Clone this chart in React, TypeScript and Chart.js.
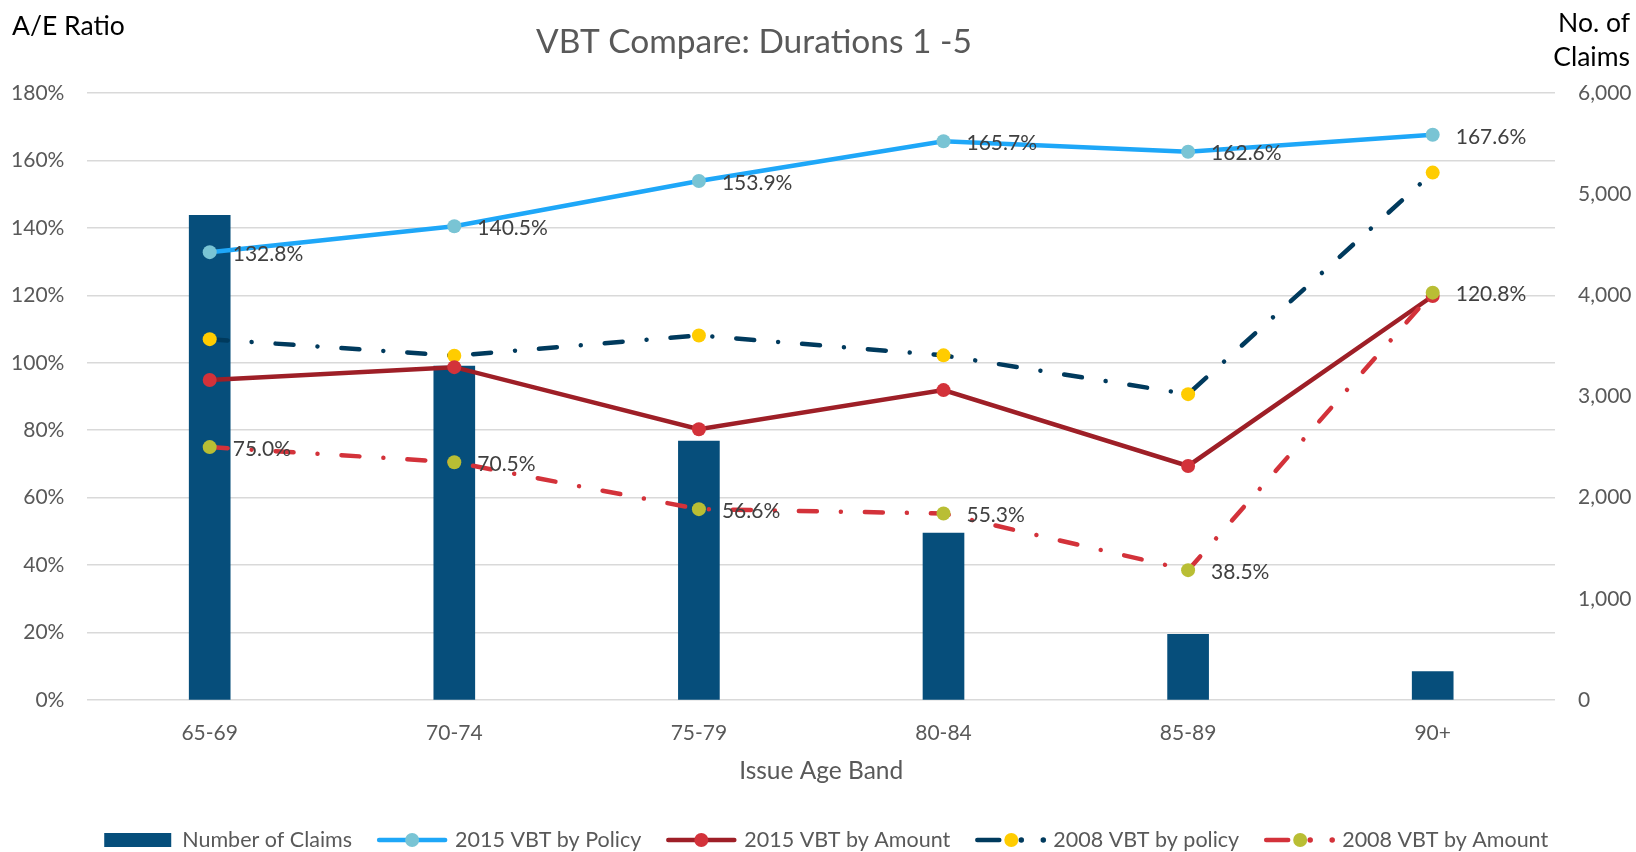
import { useEffect, useRef } from 'react';
import { Chart, registerables } from 'chart.js';

Chart.register(...registerables);

const categories = ['65-69', '70-74', '75-79', '80-84', '85-89', '90+'];
const numberOfClaims = [4790, 3300, 2560, 1650, 650, 280];
const vbt2015Policy = [132.8, 140.5, 153.9, 165.7, 162.6, 167.6];
const vbt2015Amount = [94.9, 98.7, 80.3, 91.9, 69.4, 119.8];
const vbt2008Policy = [107.0, 102.1, 108.1, 102.2, 90.7, 156.4];
const vbt2008Amount = [75.0, 70.5, 56.6, 55.3, 38.5, 120.8];

const chartTitle = 'VBT Compare: Durations 1 -5';
const leftAxisHeader = 'A/E Ratio';
const rightAxisHeader = ['No. of', 'Claims'];
const xAxisTitle = 'Issue Age Band';

const FONT = 'Lato, "Open Sans", sans-serif';
const GREY = '#595959';
const DASH_DOT = [18, 24, 0.01, 24];

const overlayPlugin = {
  id: 'overlay',
  afterDatasetsDraw(chart: any) {
    const ctx = chart.ctx;
    chart.data.datasets.forEach((ds: any, i: number) => {
      if (!ds.showValueLabels) return;
      const meta = chart.getDatasetMeta(i);
      ctx.save();
      ctx.font = `21px ${FONT}`;
      ctx.fillStyle = '#404040';
      ctx.textAlign = 'left';
      ctx.textBaseline = 'middle';
      meta.data.forEach((pt: any, j: number) => {
        ctx.fillText(Number(ds.data[j]).toFixed(1) + '%', pt.x + 23, pt.y + 2);
      });
      ctx.restore();
    });
  },
  afterDraw(chart: any) {
    const ctx = chart.ctx;
    const area = chart.chartArea;
    ctx.save();
    // title
    ctx.font = `33.5px ${FONT}`;
    ctx.fillStyle = GREY;
    ctx.textAlign = 'center';
    ctx.textBaseline = 'middle';
    ctx.fillText(chartTitle, 754, 42);
    // axis headers
    ctx.font = `26.5px ${FONT}`;
    ctx.fillStyle = '#000000';
    ctx.textAlign = 'left';
    ctx.fillText(leftAxisHeader, 12, 26);
    ctx.textAlign = 'right';
    ctx.fillText(rightAxisHeader[0], 1630, 23);
    ctx.fillText(rightAxisHeader[1], 1630, 57);
    // x axis title
    ctx.font = `24.5px ${FONT}`;
    ctx.fillStyle = GREY;
    ctx.textAlign = 'center';
    ctx.fillText(xAxisTitle, (area.left + area.right) / 2, 771);

    // legend
    const ly = 840;
    const sampleW = 70;
    const textGap = 8;
    const itemGap = 25;
    ctx.font = `21.5px ${FONT}`;
    const items = chart.data.datasets.map((ds: any) => ({ ds, w: sampleW + textGap + ctx.measureText(ds.label).width }));
    const total = items.reduce((s: number, it: any) => s + it.w, 0) + itemGap * (items.length - 1);
    let x = (area.left + area.right) / 2 + 5 - total / 2;
    items.forEach((it: any) => {
      const ds = it.ds;
      if (ds.type === 'bar') {
        ctx.fillStyle = ds.backgroundColor;
        ctx.fillRect(x, ly - 7, sampleW - 3, 14);
      } else {
        ctx.strokeStyle = ds.borderColor;
        ctx.lineWidth = ds.borderWidth;
        ctx.lineCap = 'round';
        ctx.beginPath();
        if (ds.borderDash && ds.borderDash.length) {
          ctx.moveTo(x + 2, ly);
          ctx.lineTo(x + 24, ly);
          ctx.stroke();
          ctx.fillStyle = ds.borderColor;
          [46, 68].forEach((dx) => {
            ctx.beginPath();
            ctx.arc(x + dx, ly, ds.borderWidth / 2 + 0.5, 0, Math.PI * 2);
            ctx.fill();
          });
          ctx.fillStyle = ds.pointBackgroundColor;
          ctx.beginPath();
          ctx.arc(x + 36, ly, 7, 0, Math.PI * 2);
          ctx.fill();
        } else {
          ctx.moveTo(x + 2, ly);
          ctx.lineTo(x + sampleW - 2, ly);
          ctx.stroke();
          ctx.fillStyle = ds.pointBackgroundColor;
          ctx.beginPath();
          ctx.arc(x + sampleW / 2, ly, 7, 0, Math.PI * 2);
          ctx.fill();
        }
      }
      ctx.fillStyle = GREY;
      ctx.textAlign = 'left';
      ctx.textBaseline = 'middle';
      ctx.fillText(ds.label, x + sampleW + textGap, ly);
      x += it.w + itemGap;
    });
    ctx.restore();
  },
};

export default function App() {
  const ref = useRef<HTMLCanvasElement>(null);
  useEffect(() => {
    if (!ref.current) return;
    const lineCommon = {
      type: 'line' as const,
      yAxisID: 'y',
      borderWidth: 4.5,
      tension: 0,
      pointRadius: 7,
      pointHoverRadius: 7,
      pointBorderWidth: 0,
      borderCapStyle: 'round' as const,
      fill: false,
    };
    const chart = new Chart(ref.current, {
      data: {
        labels: categories,
        datasets: [
          {
            type: 'bar',
            label: 'Number of Claims',
            data: numberOfClaims,
            yAxisID: 'y1',
            backgroundColor: '#064e7b',
            borderWidth: 0,
            barThickness: 41,
            order: 5,
          },
          {
            ...lineCommon,
            label: '2015 VBT by Policy',
            data: vbt2015Policy,
            borderColor: '#1ea7f8',
            pointBackgroundColor: '#79c4d4',
            pointBorderColor: '#79c4d4',
            showValueLabels: true,
            order: 4,
          } as any,
          {
            ...lineCommon,
            label: '2015 VBT by Amount',
            data: vbt2015Amount,
            borderColor: '#9e1f27',
            pointBackgroundColor: '#d3323a',
            pointBorderColor: '#d3323a',
            order: 2,
          } as any,
          {
            ...lineCommon,
            label: '2008 VBT by policy',
            data: vbt2008Policy,
            borderColor: '#003a5d',
            borderDash: DASH_DOT,
            pointBackgroundColor: '#ffcc00',
            pointBorderColor: '#ffcc00',
            order: 3,
          } as any,
          {
            ...lineCommon,
            label: '2008 VBT by Amount',
            data: vbt2008Amount,
            borderColor: '#d3323a',
            borderDash: DASH_DOT,
            pointBackgroundColor: '#b9be34',
            pointBorderColor: '#b9be34',
            showValueLabels: true,
            order: 1,
          } as any,
        ],
      },
      options: {
        responsive: false,
        animation: false,
        layout: { padding: { top: 93, left: 0, right: 0, bottom: 0 } },
        plugins: { legend: { display: false }, tooltip: { enabled: false }, title: { display: false } },
        scales: {
          x: {
            grid: { display: false },
            border: { display: false },
            ticks: { color: GREY, font: { family: FONT, size: 21 }, padding: 13 },
            afterFit: (s: any) => { s.height = 152; },
          },
          y: {
            position: 'left',
            min: 0,
            max: 180,
            ticks: { stepSize: 20, color: GREY, font: { family: FONT, size: 21 }, padding: 23, callback: (v: any) => `${v}%` },
            grid: { color: '#d9d9d9', lineWidth: 1.5, drawTicks: false },
            border: { display: false },
            afterFit: (s: any) => { s.width = 87.4; },
          },
          y1: {
            position: 'right',
            min: 0,
            max: 6000,
            ticks: { stepSize: 1000, color: GREY, font: { family: FONT, size: 21 }, padding: 23, callback: (v: any) => Number(v).toLocaleString('en-US') },
            grid: { drawOnChartArea: false, drawTicks: false },
            border: { display: false },
            afterFit: (s: any) => { s.width = 81; },
          },
        },
      } as any,
      plugins: [overlayPlugin],
    });
    return () => chart.destroy();
  }, []);
  return (
    <div style={{ position: 'fixed', left: 0, top: 0, width: 1636, height: 852, background: '#ffffff' }}>
      <canvas ref={ref} width={1636} height={852} style={{ display: 'block' }} />
    </div>
  );
}
